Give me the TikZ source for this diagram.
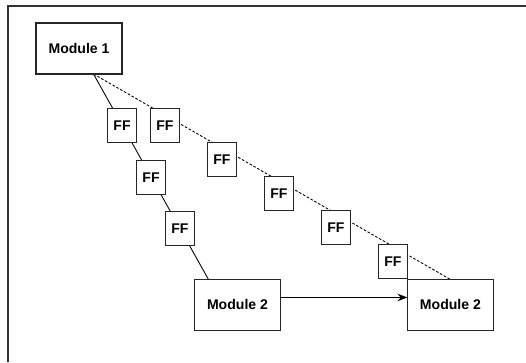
\documentclass[tikz,border=0pt]{standalone}
\usepackage{fontspec}
\setmainfont{Liberation Sans}
\usetikzlibrary{arrows.meta, positioning, backgrounds}
\tikzstyle{module} = [rectangle, minimum width=1.72cm, minimum height=1.02cm, inner sep=0pt, outer sep=0pt, text centered, draw=black!85, fill=white, line width=0.6pt, font=\fontsize{8}{9.6}\selectfont\bfseries]
\tikzstyle{ff} = [rectangle, minimum width=0.58cm, minimum height=0.68cm, inner sep=0pt, outer sep=0pt, text centered, draw=black!85, fill=white, line width=0.6pt, font=\fontsize{8}{9.6}\selectfont\bfseries]
\tikzstyle{wire} = [line width=0.5pt]
\tikzstyle{arrow} = [line width=0.6pt,->,>=Stealth]

\begin{document}
\begin{tikzpicture}[x=0.02cm, y=-0.02cm, >=Stealth]
    \useasboundingbox (0,0) rectangle (526,362);

    % Frame
    \draw [line width=0.8pt, black!80] (8,362) |- (526,6);

    % Nodes
    \node (mod1) [module] at (79,48.5) {Module 1};
    \node (ff1) [ff] at (122,125.5) {FF};
    \node (ff2) [ff, right=0.28cm of ff1] {FF};
    \node (ff3) [ff, below right=0cm and 0.56cm of ff2] {FF};
    \node (ff4) [ff, below right=0cm and 0.56cm of ff3] {FF};
    \node (ff5) [ff, below right=0cm and 0.56cm of ff4] {FF};
    \node (ff6) [ff, below right=0cm and 0.56cm of ff5] {FF};
    \node (ff7) [ff, below right=0.36cm and 0cm of ff1] {FF};
    \node (ff8) [ff, below right=0.34cm and 0cm of ff7] {FF};
    \node (mod2a) [module, below right=0.68cm and 0cm of ff8] {Module 2};
    \node (mod2b) [module, right=2.54cm of mod2a] {Module 2};

    % Taps
    \coordinate (tap) at ([xshift=0.29cm]mod1.south);
    \coordinate (tap2) at ([xshift=0.28cm]mod2a.north west);

    % Wires behind the flip-flops
    \begin{scope}[on background layer]
        \draw [wire] (tap) -- (tap2);
        \draw [wire, dash pattern=on 1.5pt off 1pt] (tap) -- (mod2b.north);
    \end{scope}

    % Direct path
    \draw [arrow] ([yshift=0.15cm]mod2a.east) -- ([yshift=0.15cm]mod2b.west);

\end{tikzpicture}
\end{document}
